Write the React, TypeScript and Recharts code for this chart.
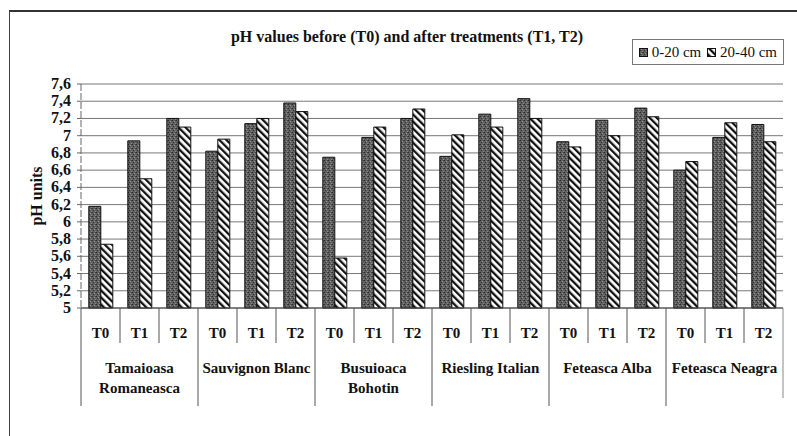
import React from "react";
import { BarChart, Bar, XAxis, YAxis, CartesianGrid, Legend } from "recharts";

const varieties = [
  "Tamaioasa Romaneasca",
  "Sauvignon Blanc",
  "Busuioaca Bohotin",
  "Riesling Italian",
  "Feteasca Alba",
  "Feteasca Neagra",
];
const treatments = ["T0", "T1", "T2"];

// pH, 0-20 cm depth (T0, T1, T2 per variety)
const depth0to20 = [6.18, 6.94, 7.2, 6.82, 7.14, 7.38, 6.75, 6.98, 7.2, 6.76, 7.25, 7.43, 6.93, 7.18, 7.32, 6.6, 6.98, 7.13];
// pH, 20-40 cm depth
const depth20to40 = [5.74, 6.5, 7.1, 6.96, 7.2, 7.28, 5.58, 7.1, 7.31, 7.01, 7.1, 7.2, 6.87, 7.0, 7.22, 6.7, 7.15, 6.93];

const yTicks = [5, 5.2, 5.4, 5.6, 5.8, 6, 6.2, 6.4, 6.6, 6.8, 7, 7.2, 7.4, 7.6];

const rows = varieties.flatMap((v, vi) =>
  treatments.map((t, ti) => ({
    key: `${vi}-${t}`,
    treatment: t,
    variety: v,
    d1: depth0to20[vi * 3 + ti],
    d2: depth20to40[vi * 3 + ti],
  }))
);

const W = 797;
const H = 436;
const margin = { top: 84, right: 14, left: 0, bottom: 28 };
const Y_W = 81;
const X_H = 100;
const PLOT_BOTTOM = H - margin.bottom - X_H;
const BAND = (W - margin.left - margin.right - Y_W) / rows.length;

const FONT = "'Liberation Serif', 'Times New Roman', serif";
const boldText = { fontFamily: FONT, fontWeight: 700, fontSize: 15 };

function wrap(name: string) {
  if (name.length <= 16) return [name];
  const i = name.indexOf(" ");
  return [name.slice(0, i), name.slice(i + 1)];
}

const XTick = (props: any) => {
  const { x, payload, index } = props;
  const row = rows[index] ?? rows[payload?.index ?? 0];
  const half = BAND / 2;
  const pos = index % 3;
  return (
    <g>
      <line
        x1={x - half}
        x2={x - half}
        y1={PLOT_BOTTOM}
        y2={pos === 0 ? PLOT_BOTTOM + 98 : PLOT_BOTTOM + 35}
        stroke="#555"
      />
      {index === rows.length - 1 && (
        <line x1={x + half} x2={x + half} y1={PLOT_BOTTOM} y2={PLOT_BOTTOM + 90} stroke="#888" />
      )}
      <text x={x} y={PLOT_BOTTOM + 30} textAnchor="middle" style={boldText} fill="#111">
        {payload.value}
      </text>
      {pos === 1 &&
        wrap(row.variety).map((line, i) => (
          <text key={i} x={x} y={PLOT_BOTTOM + 65 + i * 20} textAnchor="middle" style={boldText} fill="#111">
            {line}
          </text>
        ))}
    </g>
  );
};

const YTick = (props: any) => {
  const { x, y, payload } = props;
  const label = String(Math.round(payload.value * 10) / 10).replace(".", ",");
  return (
    <text x={x} y={y} dy={5} textAnchor="end" style={{ ...boldText, fontSize: 16 }} fill="#111">
      {label}
    </text>
  );
};

const LegendBox = () => (
  <div
    style={{
      border: "1px solid #777",
      fontFamily: FONT,
      fontSize: 15,
      color: "#111",
      display: "flex",
      alignItems: "center",
      gap: 4,
      padding: "2px 6px",
      height: 20,
      width: 138,
      whiteSpace: "nowrap",
      background: "#fff",
    }}
  >
    <svg width={9} height={9}>
      <rect x={0.5} y={0.5} width={8} height={8} fill="url(#stipple)" stroke="#111" />
    </svg>
    <span>0-20 cm</span>
    <svg width={9} height={9} style={{ marginLeft: 2 }}>
      <rect x={0.5} y={0.5} width={8} height={8} fill="url(#hatch)" stroke="#111" />
    </svg>
    <span>20-40 cm</span>
  </div>
);

export default function App() {
  return (
    <div style={{ position: "absolute", left: 0, top: 0, width: W, height: H, overflow: "hidden", background: "#fff" }}>
      <div
        style={{
          position: "absolute",
          left: 9,
          top: 10,
          width: 820,
          height: 460,
          borderTop: "2px solid #333",
          borderLeft: "1.5px solid #444",
        }}
      />
      <div
        style={{
          position: "absolute",
          left: 0,
          top: 28,
          width: 814,
          textAlign: "center",
          fontFamily: FONT,
          fontWeight: "bold",
          fontSize: 16,
          color: "#111",
        }}
      >
        pH values before (T0) and after treatments (T1, T2)
      </div>
      <BarChart
        width={W}
        height={H}
        data={rows}
        margin={margin}
        barCategoryGap="20%"
        barGap={0}
        style={{ position: "absolute", left: 0, top: 0 }}
      >
        <defs>
          <pattern id="stipple" width="4" height="4" patternUnits="userSpaceOnUse">
            <rect width="4" height="4" fill="#606060" />
            <rect x="0" y="0" width="1" height="1" fill="#2a2a2a" />
            <rect x="2" y="1" width="1" height="1" fill="#959595" />
            <rect x="1" y="2" width="1" height="1" fill="#333" />
            <rect x="3" y="3" width="1" height="1" fill="#888" />
            <rect x="3" y="0" width="1" height="1" fill="#444" />
          </pattern>
          <pattern id="hatch" width="5" height="5" patternUnits="userSpaceOnUse" patternTransform="rotate(-45)">
            <rect width="5" height="5" fill="#fff" />
            <rect width="2.3" height="5" fill="#111" />
          </pattern>
        </defs>
        <CartesianGrid vertical={false} stroke="#777" />
        <XAxis
          dataKey="treatment"
          height={X_H}
          tickLine={false}
          axisLine={{ stroke: "#444" }}
          interval={0}
          tick={<XTick />}
        />
        <YAxis
          width={Y_W}
          domain={[5, 7.6]}
          ticks={yTicks}
          interval={0}
          tickSize={4}
          tickMargin={6}
          axisLine={{ stroke: "#666", strokeDasharray: "7 2" }}
          tickLine={{ stroke: "#666" }}
          tick={<YTick />}
          label={{
            content: (p: any) => {
              const vb = p.viewBox || { x: 0, y: margin.top, height: PLOT_BOTTOM - margin.top };
              const cx = vb.x + 36;
              const cy = vb.y + vb.height / 2;
              return (
                <text
                  x={cx}
                  y={cy}
                  transform={`rotate(-90 ${cx} ${cy})`}
                  textAnchor="middle"
                  dominantBaseline="central"
                  style={{ ...boldText, fontSize: 16 }}
                  fill="#111"
                >
                  pH units
                </text>
              );
            },
          }}
        />
        <Legend
          layout="horizontal"
          align="center"
          verticalAlign="middle"
          content={<LegendBox />}
          wrapperStyle={{ position: "absolute", left: 632, top: 39, width: "auto" }}
        />
        <Bar dataKey="d1" name="0-20 cm" fill="url(#stipple)" stroke="#111" strokeWidth={1} isAnimationActive={false} />
        <Bar dataKey="d2" name="20-40 cm" fill="url(#hatch)" stroke="#111" strokeWidth={1} isAnimationActive={false} />
      </BarChart>
    </div>
  );
}
